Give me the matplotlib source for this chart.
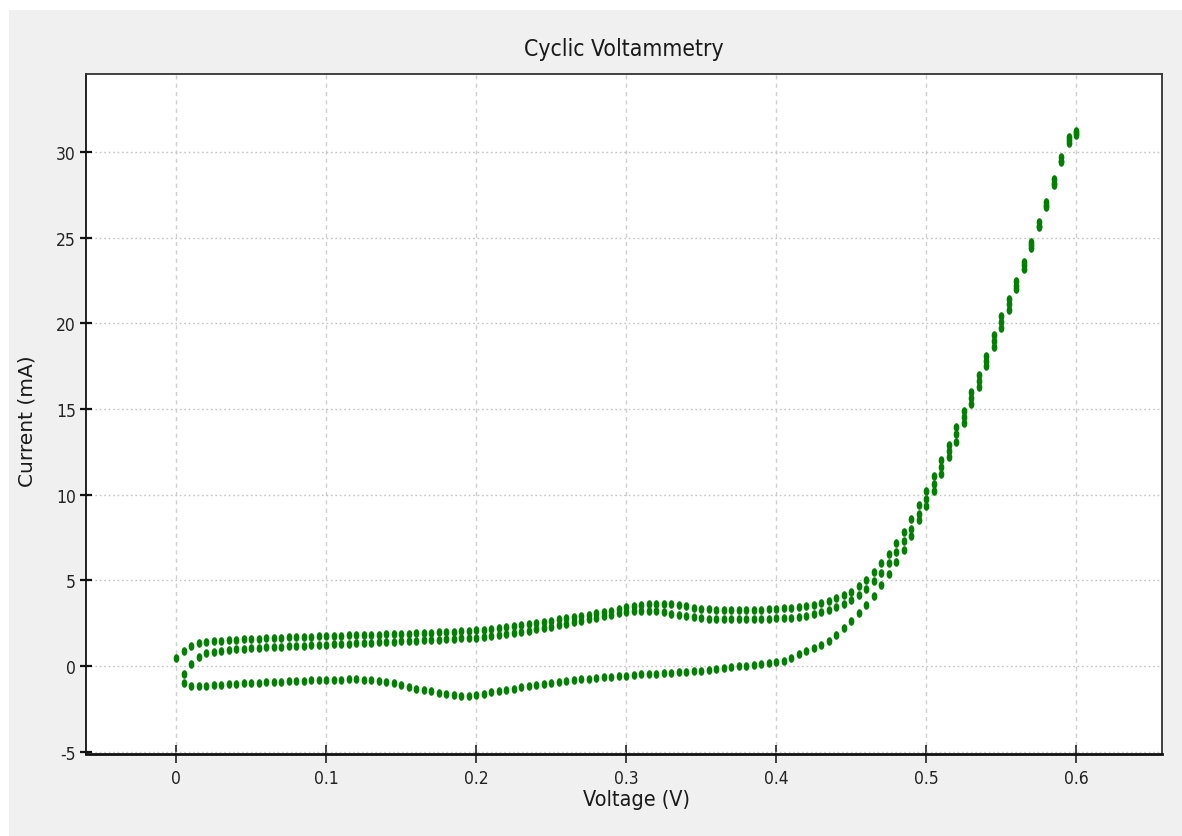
import matplotlib
matplotlib.use("Agg")
import matplotlib.pyplot as plt
import matplotlib.font_manager as fm
from matplotlib.path import Path
from matplotlib.patches import Rectangle
import numpy as np

# scan voltage grid (V), 5 mV steps
scan_v = [
    0.000, 0.005, 0.010, 0.015, 0.020, 0.025, 0.030, 0.035, 0.040, 0.045,
    0.050, 0.055, 0.060, 0.065, 0.070, 0.075, 0.080, 0.085, 0.090, 0.095,
    0.100, 0.105, 0.110, 0.115, 0.120, 0.125, 0.130, 0.135, 0.140, 0.145,
    0.150, 0.155, 0.160, 0.165, 0.170, 0.175, 0.180, 0.185, 0.190, 0.195,
    0.200, 0.205, 0.210, 0.215, 0.220, 0.225, 0.230, 0.235, 0.240, 0.245,
    0.250, 0.255, 0.260, 0.265, 0.270, 0.275, 0.280, 0.285, 0.290, 0.295,
    0.300, 0.305, 0.310, 0.315, 0.320, 0.325, 0.330, 0.335, 0.340, 0.345,
    0.350, 0.355, 0.360, 0.365, 0.370, 0.375, 0.380, 0.385, 0.390, 0.395,
    0.400, 0.405, 0.410, 0.415, 0.420, 0.425, 0.430, 0.435, 0.440, 0.445,
    0.450, 0.455, 0.460, 0.465, 0.470, 0.475, 0.480, 0.485, 0.490, 0.495,
    0.500, 0.505, 0.510, 0.515, 0.520, 0.525, 0.530, 0.535, 0.540, 0.545,
    0.550, 0.555, 0.560, 0.565, 0.570, 0.575, 0.580, 0.585, 0.590, 0.595,
    0.600,
]

# cycle 1, forward sweep 0.000 -> 0.600 V (mA)
fwd1_i = [
    0.47, 0.86, 1.19, 1.36, 1.42, 1.46, 1.49, 1.52, 1.54, 1.56,
    1.58, 1.60, 1.62, 1.64, 1.66, 1.68, 1.69, 1.71, 1.72, 1.74,
    1.75, 1.77, 1.78, 1.79, 1.80, 1.82, 1.83, 1.84, 1.85, 1.87,
    1.88, 1.90, 1.91, 1.93, 1.95, 1.97, 1.99, 2.01, 2.03, 2.06,
    2.09, 2.13, 2.18, 2.23, 2.28, 2.34, 2.40, 2.46, 2.52, 2.58,
    2.65, 2.72, 2.79, 2.86, 2.93, 3.00, 3.07, 3.15, 3.24, 3.33,
    3.42, 3.50, 3.57, 3.62, 3.65, 3.64, 3.61, 3.55, 3.48, 3.41,
    3.36, 3.32, 3.29, 3.27, 3.26, 3.26, 3.27, 3.28, 3.30, 3.32,
    3.34, 3.37, 3.40, 3.44, 3.50, 3.58, 3.68, 3.80, 3.95, 4.13,
    4.35, 4.65, 5.02, 5.48, 6.00, 6.55, 7.18, 7.85, 8.60, 9.38,
    10.20, 11.10, 12.00, 12.90, 13.95, 14.90, 16.00, 17.00, 18.10, 19.30,
    20.40, 21.40, 22.45, 23.60, 24.75, 25.90, 27.10, 28.40, 29.70, 30.90,
    31.25,
]

# cycle 1, reverse sweep 0.600 -> 0.005 V (mA)
rev1_i = [
    31.00, 30.50, 29.40, 28.10, 26.80, 25.60, 24.40, 23.20, 22.00, 20.80,
    19.70, 18.60, 17.50, 16.30, 15.30, 14.20, 13.10, 12.20, 11.20, 10.20,
    9.34, 8.50, 7.60, 6.80, 6.10, 5.35, 4.72, 4.10, 3.58, 3.08,
    2.62, 2.22, 1.82, 1.46, 1.24, 1.06, 0.90, 0.70, 0.47, 0.32,
    0.25, 0.19, 0.14, 0.08, 0.03, -0.02, -0.08, -0.13, -0.18, -0.22,
    -0.26, -0.30, -0.33, -0.36, -0.39, -0.42, -0.44, -0.47, -0.49, -0.52,
    -0.55, -0.58, -0.61, -0.65, -0.69, -0.73, -0.78, -0.83, -0.88, -0.94,
    -1.00, -1.05, -1.11, -1.17, -1.24, -1.31, -1.38, -1.46, -1.53, -1.60,
    -1.68, -1.76, -1.74, -1.69, -1.63, -1.56, -1.48, -1.40, -1.33, -1.22,
    -1.08, -0.97, -0.90, -0.85, -0.81, -0.79, -0.78, -0.78, -0.79, -0.80,
    -0.81, -0.82, -0.84, -0.85, -0.87, -0.88, -0.90, -0.92, -0.94, -0.96,
    -0.98, -1.00, -1.03, -1.06, -1.09, -1.12, -1.16, -1.19, -1.18, -1.00,
]

# cycle 2, forward sweep 0.005 -> 0.600 V (mA)
fwd2_i = [
    -0.45, 0.15, 0.52, 0.74, 0.84, 0.90, 0.95, 0.99, 1.02, 1.05,
    1.07, 1.09, 1.11, 1.13, 1.15, 1.17, 1.19, 1.21, 1.23, 1.25,
    1.27, 1.29, 1.31, 1.33, 1.35, 1.37, 1.39, 1.41, 1.43, 1.45,
    1.47, 1.49, 1.51, 1.53, 1.55, 1.57, 1.59, 1.61, 1.63, 1.66,
    1.70, 1.75, 1.80, 1.86, 1.92, 1.99, 2.06, 2.14, 2.22, 2.30,
    2.38, 2.46, 2.55, 2.64, 2.73, 2.82, 2.91, 3.00, 3.08, 3.15,
    3.19, 3.21, 3.21, 3.19, 3.14, 3.06, 2.98, 2.91, 2.85, 2.80,
    2.77, 2.75, 2.74, 2.73, 2.73, 2.73, 2.74, 2.75, 2.76, 2.78,
    2.80, 2.83, 2.88, 2.95, 3.04, 3.15, 3.28, 3.45, 3.65, 3.88,
    4.17, 4.52, 4.95, 5.45, 6.02, 6.64, 7.28, 8.00, 8.85, 9.75,
    10.65, 11.60, 12.55, 13.55, 14.55, 15.65, 16.65, 17.80, 18.95, 20.05,
    21.10, 22.20, 23.40, 24.55, 25.70, 26.90, 28.20, 29.50, 30.70, 31.10,
]

x_ticks = [0, 0.1, 0.2, 0.3, 0.4, 0.5, 0.6]
x_labels = ["0", "0.1", "0.2", "0.3", "0.4", "0.5", "0.6"]
y_ticks = [-5, 0, 5, 10, 15, 20, 25, 30]
y_labels = ["-5", "0", "5", "10", "15", "20", "25", "30"]


def narrow_font():
    # look for a condensed face on disk, the chart uses a tall narrow font
    wanted = ["LiberationSansNarrow-Regular", "DejaVuSansCondensed.ttf",
              "RobotoCondensed-Regular", "OpenSans_Condensed-Regular",
              "LiberationSans-Regular"]
    files = [f.fname for f in fm.fontManager.ttflist]
    for key in wanted:
        for fn in files:
            if key in fn:
                return fn, key
    return None, None


font_file, font_key = narrow_font()
scale = 1.0
if font_key == "LiberationSans-Regular":
    scale = 0.88
elif font_key is None:
    scale = 0.82


def fp(size):
    if font_file:
        return fm.FontProperties(fname=font_file, size=size * scale)
    return fm.FontProperties(family="DejaVu Sans", size=size * scale)


fig = plt.figure(figsize=(11.82, 8.37), dpi=100, facecolor="#f0f0f0")
# thin white margin on the top and left edges
fig.patches.append(Rectangle((0, 1 - 11 / 837), 1, 11 / 837, transform=fig.transFigure,
                             facecolor="white", edgecolor="none", zorder=-1))
fig.patches.append(Rectangle((0, 0), 9 / 1182, 1, transform=fig.transFigure,
                             facecolor="white", edgecolor="none", zorder=-1))

ax = fig.add_axes([86 / 1182, 1 - 755 / 837, (1162 - 86) / 1182, (755 - 75) / 837])
ax.set_facecolor("white")

# upright oval dot marker
circ = Path.unit_circle()
dot = Path(circ.vertices * np.array([0.66, 1.0]), circ.codes)

v = np.array(scan_v)
mk = dict(linestyle="none", marker=dot, markersize=6.2, color="#008000",
          markeredgewidth=0, zorder=3)
ax.plot(v, fwd1_i, **mk)
ax.plot(v[1:][::-1], rev1_i, **mk)
ax.plot(v[1:], fwd2_i, **mk)

ax.set_xlim(-0.06, 0.6573)
ax.set_ylim(-5.13, 34.55)

ax.set_xticks(x_ticks)
ax.set_xticklabels(x_labels, fontproperties=fp(12.5), color="#222222")
ax.set_yticks(y_ticks)
ax.set_yticklabels(y_labels, fontproperties=fp(12.5), color="#222222")
ax.tick_params(axis="x", direction="inout", length=13, width=1.2, pad=4, color="#222222")
ax.tick_params(axis="y", direction="inout", length=8.6, width=1.6, pad=3, color="#111111")

ax.xaxis.grid(True, linestyle=(0, (3, 3)), color="#cfcfcf", linewidth=1.0)
ax.yaxis.grid(True, linestyle=(0, (1.2, 2)), color="#c4c4c4", linewidth=1.0)
ax.set_axisbelow(True)

for side in ["top", "right"]:
    ax.spines[side].set_color("#333333")
    ax.spines[side].set_linewidth(1.3)
ax.spines["left"].set_color("#111111")
ax.spines["left"].set_linewidth(1.3)
ax.spines["bottom"].set_color("#111111")
ax.spines["bottom"].set_linewidth(2.0)

ax.set_title("Cyclic Voltammetry", fontproperties=fp(16.5), color="#1a1a1a", pad=14)
ax.set_xlabel("Voltage (V)", fontproperties=fp(15.5), color="#1a1a1a", labelpad=4)
ax.xaxis.set_label_coords(0.512, -0.052)
ax.set_ylabel("Current (mA)", family=["DejaVu Sans"], fontsize=14.5, color="#1a1a1a")
ax.yaxis.set_label_coords(-0.046, 0.491)

fig.savefig("out.png", dpi=100, facecolor=fig.get_facecolor())
